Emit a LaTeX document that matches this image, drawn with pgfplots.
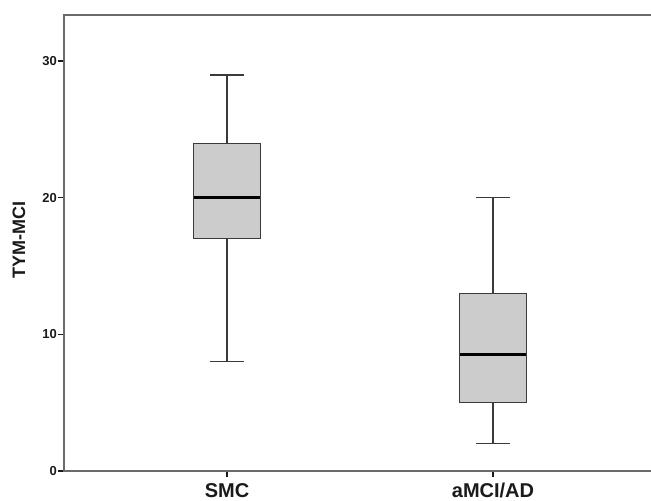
\documentclass[border=0pt]{standalone}
\usepackage{pgfplots}
\pgfplotsset{compat=1.18}
\usepgfplotslibrary{statistics}
\usepackage{fontspec}
\setmainfont{Liberation Sans}
\definecolor{boxfill}{HTML}{CCCCCC}
\definecolor{boxline}{HTML}{3A3A3A}
\definecolor{axisgray}{HTML}{6A6A6A}
\definecolor{txt}{HTML}{1A1A1A}
\begin{document}
\begin{tikzpicture}
\begin{axis}[
  at={(0,0)}, anchor=south west,
  scale only axis,
  width=592bp, height=456bp,
  xmin=0.3872, xmax=2.6128,
  ymin=0, ymax=33.37,
  xtick={1,2}, xticklabels={SMC, aMCI/AD},
  ytick={0,10,20,30},
  xtick pos=bottom, ytick pos=left,
  tick align=outside,
  major tick length=6bp,
  axis line style={axisgray, line width=1.5bp},
  tick style={txt, line width=1.2bp},
  /pgf/number format/assume math mode=true,
  yticklabel style={font=\fontsize{13bp}{15bp}\selectfont\bfseries, text=txt, inner sep=1bp},
  xticklabel style={font=\fontsize{20bp}{22bp}\selectfont\bfseries, text=txt, anchor=base, yshift=-20bp},
  ylabel={TYM-MCI},
  every axis y label/.style={at={(axis description cs:0,0.5)}, xshift=-45bp, yshift=3bp, rotate=90, anchor=center,
    font=\fontsize{18bp}{20bp}\selectfont\bfseries, text=txt},
  boxplot/draw direction=y,
]
% SMC
\addplot+[draw=boxline, fill=boxfill, line width=1bp, solid, mark=none,
  boxplot/every whisker/.style={line width=1.6bp},
  boxplot/every median/.style={draw=black, line width=2.8bp},
  boxplot prepared={lower whisker=8, lower quartile=17, median=20,
  upper quartile=24, upper whisker=29, draw position=1,
  box extend=0.25, whisker extend=0.125, draw direction=y}] coordinates {};
% aMCI/AD
\addplot+[draw=boxline, fill=boxfill, line width=1bp, solid, mark=none,
  boxplot/every whisker/.style={line width=1.6bp},
  boxplot/every median/.style={draw=black, line width=2.8bp},
  boxplot prepared={lower whisker=2, lower quartile=5, median=8.5,
  upper quartile=13, upper whisker=20, draw position=2,
  box extend=0.25, whisker extend=0.125, draw direction=y}] coordinates {};
\end{axis}
\pgfresetboundingbox
\useasboundingbox (-64bp,-30bp) rectangle (587bp,471bp);
\end{tikzpicture}
\end{document}
